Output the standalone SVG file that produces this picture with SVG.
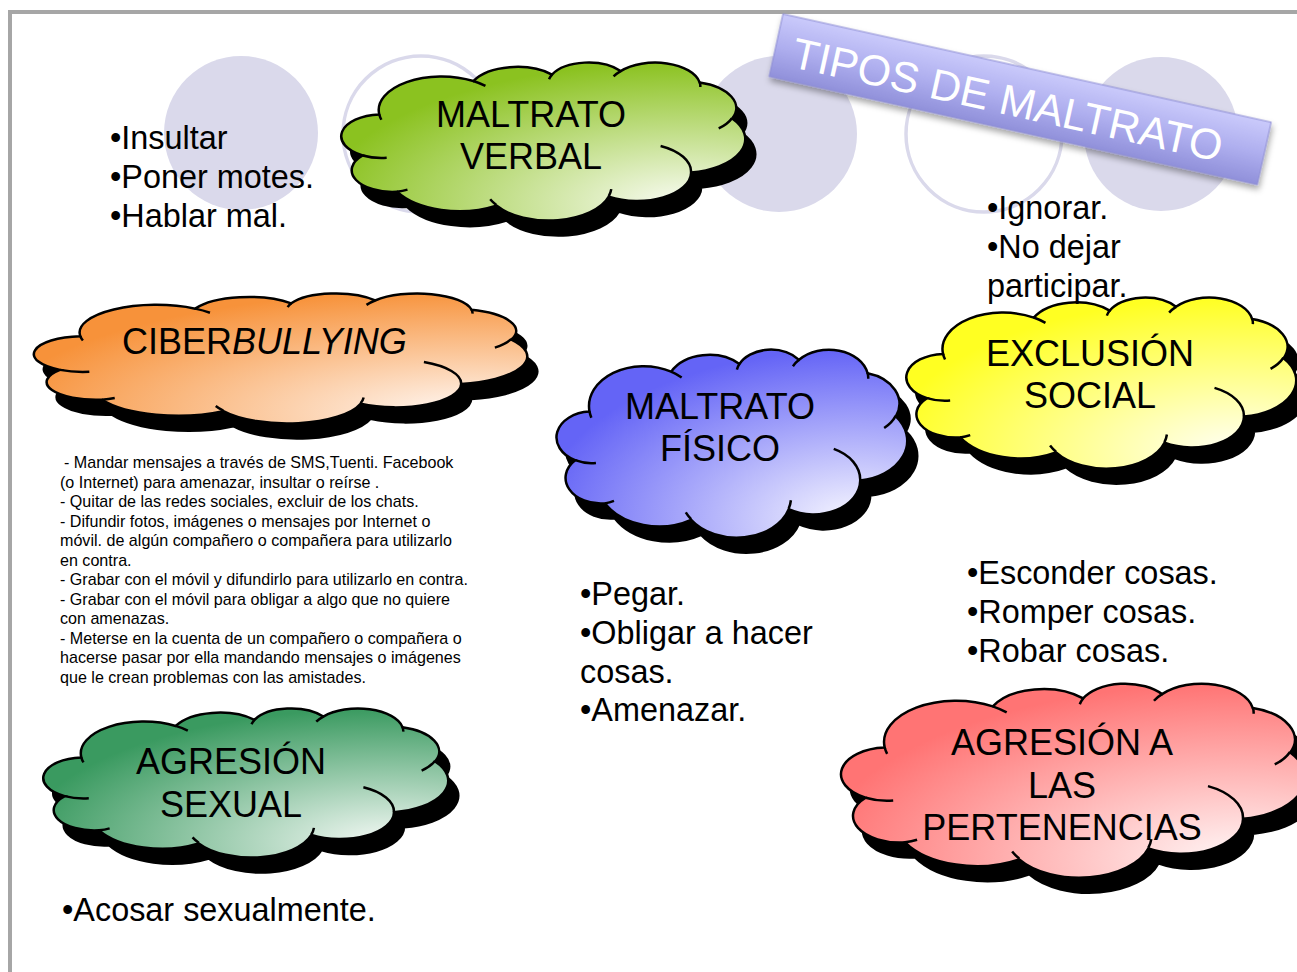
<svg xmlns="http://www.w3.org/2000/svg" xmlns:xlink="http://www.w3.org/1999/xlink" width="1297" height="972" viewBox="0 0 1297 972">
<style>
.bgc{fill:#DAD9EB}
.bgo{fill:none;stroke:#DAD9EB;stroke-width:3.5}
.sh{fill:#000;stroke:#000;stroke-width:2.5}
.ol{stroke:#000;stroke-width:2.5}
.ln{stroke:#000;stroke-width:2.5}
.t{font-family:"Liberation Sans",Arial,sans-serif;fill:#000}
.ct{font-size:36px;text-anchor:middle}
.bt{font-size:32.4px}
.st{font-size:16.1px}
</style>
<defs>
<path id="cloud" vector-effect="non-scaling-stroke" d="M39 143.7 A67.53 91.9 0 0 1 140.06 52.02 A53.33 72.67 0 0 1 224.59 34.35 A43.65 59.45 0 0 1 298.36 24.85 A48.57 65.95 0 0 1 383.21 55.79 A53.33 72.73 0 0 1 418.22 154.63 A67.75 92.2 0 0 1 374.08 302.08 A57.85 78.67 0 0 1 285.59 368.18 A67.52 92.15 0 0 1 164.82 392.67 A77.2 105.43 0 0 1 58.04 354.75 A43.6 59.18 0 0 1 21.14 255.51 A43.45 59.45 0 0 1 39 143.7 Z"/>
<path id="cloudLines" fill="none" vector-effect="non-scaling-stroke" d="M46.93 261.77 A43.45 59.45 0 0 1 21.14 255.51 M69.28 348.99 A43.6 59.18 0 0 1 58.04 354.75 M164.78 390.9 A67.52 92.15 0 0 1 158.16 375.29 M288.27 347.51 A67.52 92.15 0 0 1 285.6 366.6 M341.29 229.54 A57.85 78.67 0 0 1 374.08 302.08 M417.98 153.54 A53.33 72.73 0 0 1 403.72 181.4 M383.24 54.26 A48.57 65.95 0 0 1 383.98 68.45 M290.78 39.52 A48.57 65.95 0 0 1 298.36 24.85 M221.41 47.2 A43.65 59.45 0 0 1 224.59 34.35 M140 51.92 A67.53 91.9 0 0 1 153.06 65.51 M41.27 157.89 A67.53 91.9 0 0 1 39 143.7"/>
<radialGradient id="gV" cx="0.85" cy="0.9" r="0.9" fx="0.85" fy="0.9"><stop offset="0" stop-color="#FAFCF5"/><stop offset="1" stop-color="#8BC220"/></radialGradient>
<radialGradient id="gC" cx="0.88" cy="0.92" r="0.95" fx="0.88" fy="0.92"><stop offset="0" stop-color="#FFF8F4"/><stop offset="1" stop-color="#F7923A"/></radialGradient>
<radialGradient id="gF" cx="0.85" cy="0.9" r="0.9" fx="0.85" fy="0.9"><stop offset="0" stop-color="#F6F6FF"/><stop offset="1" stop-color="#6464F6"/></radialGradient>
<radialGradient id="gE" cx="0.85" cy="0.9" r="0.9" fx="0.85" fy="0.9"><stop offset="0" stop-color="#FFFFF6"/><stop offset="1" stop-color="#FFFF22"/></radialGradient>
<radialGradient id="gS" cx="0.85" cy="0.9" r="0.9" fx="0.85" fy="0.9"><stop offset="0" stop-color="#F4F9F5"/><stop offset="1" stop-color="#3A9A60"/></radialGradient>
<radialGradient id="gP" cx="0.85" cy="0.9" r="0.9" fx="0.85" fy="0.9"><stop offset="0" stop-color="#FFF6F6"/><stop offset="1" stop-color="#FF7474"/></radialGradient>
<linearGradient id="gB" x1="0" y1="0" x2="0" y2="1"><stop offset="0" stop-color="#CACAFB"/><stop offset="0.5" stop-color="#AFAFEF"/><stop offset="1" stop-color="#9090DA"/></linearGradient>
<filter id="bsh" x="-10%" y="-30%" width="120%" height="170%"><feDropShadow dx="2" dy="4" stdDeviation="3" flood-color="#000" flood-opacity="0.35"/></filter>
</defs>
<rect width="1297" height="972" fill="#FFFFFF"/>
<g id="frame" fill="#A6A6A6">
<rect x="8" y="10" width="1289" height="4"/>
<rect x="8" y="10" width="4" height="962"/>
</g>
<g id="background-circles">
<circle cx="241" cy="133" r="77" class="bgc"/>
<circle cx="421" cy="134" r="78" class="bgo"/>
<circle cx="779" cy="134" r="78" class="bgc"/>
<circle cx="984" cy="134" r="78" class="bgo"/>
<circle cx="1161" cy="134" r="77" class="bgc"/>
</g>
<g id="title">
<g transform="translate(783 14) rotate(12.5)">
<rect x="0" y="0" width="500" height="64" fill="url(#gB)" stroke="#8E8ED4" stroke-width="1" filter="url(#bsh)"/>
<text x="18" y="50" class="t" style="font-size:43px;fill:#FFFFFF">TIPOS DE MALTRATO</text>
</g>
</g>
<g id="connectors"></g>
<g id="node-verbal">
<use href="#cloud" class="sh" transform="translate(353 77) scale(0.9306 0.3657)"/>
<use href="#cloud" class="ol" fill="url(#gV)" transform="translate(343 62) scale(0.9306 0.3657)"/>
<use href="#cloudLines" class="ln" transform="translate(343 62) scale(0.9306 0.3657)"/>
<text class="t ct" x="531" y="127">MALTRATO</text>
<text class="t ct" x="531" y="169">VERBAL</text>
</g>
<g id="node-ciberbullying">
<use href="#cloud" class="sh" transform="translate(46 308) scale(1.1366 0.3009)"/>
<use href="#cloud" class="ol" fill="url(#gC)" transform="translate(36 293) scale(1.1366 0.3009)"/>
<use href="#cloudLines" class="ln" transform="translate(36 293) scale(1.1366 0.3009)"/>
<text class="t" style="font-size:36px" x="122" y="354">CIBER<tspan font-style="italic">BULLYING</tspan></text>
</g>
<g id="node-fisico">
<use href="#cloud" class="sh" transform="translate(568 364) scale(0.8079 0.4352)"/>
<use href="#cloud" class="ol" fill="url(#gF)" transform="translate(558 349) scale(0.8079 0.4352)"/>
<use href="#cloudLines" class="ln" transform="translate(558 349) scale(0.8079 0.4352)"/>
<text class="t ct" x="720" y="419">MALTRATO</text>
<text class="t ct" x="720" y="461">FÍSICO</text>
</g>
<g id="node-exclusion">
<use href="#cloud" class="sh" transform="translate(918 312) scale(0.8981 0.3958)"/>
<use href="#cloud" class="ol" fill="url(#gE)" transform="translate(908 297) scale(0.8981 0.3958)"/>
<use href="#cloudLines" class="ln" transform="translate(908 297) scale(0.8981 0.3958)"/>
<text class="t ct" x="1090" y="366">EXCLUSIÓN</text>
<text class="t ct" x="1090" y="408">SOCIAL</text>
</g>
<g id="node-sexual">
<use href="#cloud" class="sh" transform="translate(55 723) scale(0.9329 0.3449)"/>
<use href="#cloud" class="ol" fill="url(#gS)" transform="translate(45 708) scale(0.9329 0.3449)"/>
<use href="#cloudLines" class="ln" transform="translate(45 708) scale(0.9329 0.3449)"/>
<text class="t ct" x="231" y="774">AGRESIÓN</text>
<text class="t ct" x="231" y="817">SEXUAL</text>
</g>
<g id="node-pertenencias">
<use href="#cloud" class="sh" transform="translate(853 698) scale(1.0694 0.4491)"/>
<use href="#cloud" class="ol" fill="url(#gP)" transform="translate(843 683) scale(1.0694 0.4491)"/>
<use href="#cloudLines" class="ln" transform="translate(843 683) scale(1.0694 0.4491)"/>
<text class="t ct" x="1062" y="755">AGRESIÓN A</text>
<text class="t ct" x="1062" y="798">LAS</text>
<text class="t ct" x="1062" y="840">PERTENENCIAS</text>
</g>
<g id="text-verbal" class="t bt">
<text x="110" y="149">•Insultar</text>
<text x="110" y="188">•Poner motes.</text>
<text x="110" y="227">•Hablar mal.</text>
</g>
<g id="text-exclusion" class="t bt">
<text x="987" y="219">•Ignorar.</text>
<text x="987" y="258">•No dejar</text>
<text x="987" y="297">participar.</text>
</g>
<g id="text-ciberbullying" class="t st">
<text x="64" y="468">- Mandar mensajes a través de SMS,Tuenti. Facebook</text>
<text x="60" y="487.5">(o Internet) para amenazar, insultar o reírse .</text>
<text x="60" y="507">- Quitar de las redes sociales, excluir de los chats.</text>
<text x="60" y="526.5">- Difundir fotos, imágenes o mensajes por Internet o</text>
<text x="60" y="546">móvil. de algún compañero o compañera para utilizarlo</text>
<text x="60" y="565.5">en contra.</text>
<text x="60" y="585">- Grabar con el móvil y difundirlo para utilizarlo en contra.</text>
<text x="60" y="604.5">- Grabar con el móvil para obligar a algo que no quiere</text>
<text x="60" y="624">con amenazas.</text>
<text x="60" y="643.5">- Meterse en la cuenta de un compañero o compañera o</text>
<text x="60" y="663">hacerse pasar por ella mandando mensajes o imágenes</text>
<text x="60" y="682.5">que le crean problemas con las amistades.</text>
</g>
<g id="text-fisico" class="t bt">
<text x="580" y="605">•Pegar.</text>
<text x="580" y="644">•Obligar a hacer</text>
<text x="580" y="683">cosas.</text>
<text x="580" y="721">•Amenazar.</text>
</g>
<g id="text-pertenencias" class="t bt">
<text x="967" y="584">•Esconder cosas.</text>
<text x="967" y="623">•Romper cosas.</text>
<text x="967" y="662">•Robar cosas.</text>
</g>
<g id="text-sexual" class="t bt">
<text x="62" y="921">•Acosar sexualmente.</text>
</g>
</svg>
